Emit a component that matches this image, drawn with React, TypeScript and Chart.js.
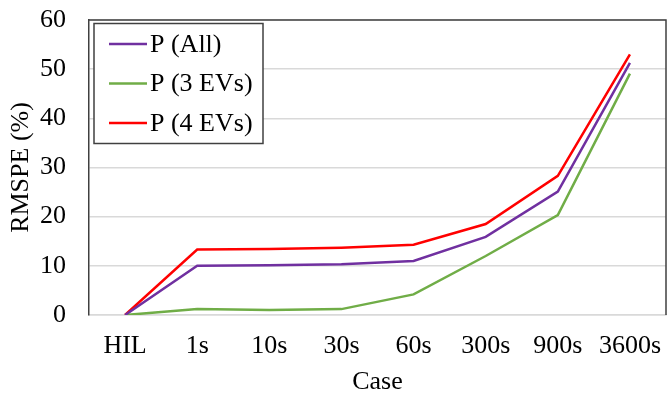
import React, { useEffect, useRef } from "react";
import { Chart, registerables } from "chart.js";

Chart.register(...registerables);

const categories = ["HIL", "1s", "10s", "30s", "60s", "300s", "900s", "3600s"];
const pAll = [0, 10.0, 10.1, 10.3, 11.0, 15.9, 25.1, 51.3];
const p3EVs = [0, 1.2, 1.0, 1.2, 4.2, 12.0, 20.3, 49.1];
const p4EVs = [0, 13.3, 13.4, 13.7, 14.3, 18.5, 28.3, 53.0];
const seriesNames = ["P (All)", "P (3 EVs)", "P (4 EVs)"];
const seriesColors = ["#7030A0", "#70AD47", "#FF0000"];
const yTitle = "RMSPE (%)";
const xTitle = "Case";

const FONT = "'Liberation Serif', 'Times New Roman', serif";

const plotBorderPlugin = {
  id: "plotBorder",
  afterDraw(chart: any) {
    const { ctx, chartArea } = chart;
    ctx.save();
    ctx.strokeStyle = "#404040";
    ctx.lineWidth = 1.5;
    ctx.beginPath();
    ctx.moveTo(chartArea.left, chartArea.top);
    ctx.lineTo(chartArea.right, chartArea.top);
    ctx.lineTo(chartArea.right, chartArea.bottom);
    ctx.stroke();
    ctx.restore();
  },
};

const boxedLegendPlugin = {
  id: "boxedLegend",
  afterDraw(chart: any) {
    const { ctx, chartArea } = chart;
    const x0 = chartArea.left + 5;
    const y0 = chartArea.top + 3.5;
    const w = 169;
    const h = 120;
    ctx.save();
    ctx.fillStyle = "#ffffff";
    ctx.fillRect(x0, y0, w, h);
    ctx.strokeStyle = "#404040";
    ctx.lineWidth = 1.5;
    ctx.strokeRect(x0, y0, w, h);
    ctx.font = `26px ${FONT}`;
    ctx.textBaseline = "middle";
    ctx.textAlign = "left";
    chart.data.datasets.forEach((ds: any, i: number) => {
      const cy = y0 + 20.5 + i * 39.5;
      ctx.strokeStyle = ds.borderColor;
      ctx.lineWidth = 2.5;
      ctx.beginPath();
      ctx.moveTo(x0 + 15, cy);
      ctx.lineTo(x0 + 53, cy);
      ctx.stroke();
      ctx.fillStyle = "#000000";
      ctx.fillText(ds.label, x0 + 56, cy + 1);
    });
    ctx.restore();
  },
};

export default function App() {
  const canvasRef = useRef<HTMLCanvasElement | null>(null);

  useEffect(() => {
    if (!canvasRef.current) return;
    const data = [pAll, p3EVs, p4EVs];
    const chart = new Chart(canvasRef.current, {
      type: "line",
      data: {
        labels: categories,
        datasets: data.map((d, i) => ({
          label: seriesNames[i],
          data: d,
          borderColor: seriesColors[i],
          backgroundColor: seriesColors[i],
          borderWidth: 2.5,
          pointRadius: 0,
          tension: 0,
          fill: false,
        })),
      },
      options: {
        responsive: false,
        animation: false,
        layout: { padding: { top: 20, right: 1, bottom: 0, left: 0 } },
        plugins: {
          legend: { display: false },
          tooltip: { enabled: false },
        },
        scales: {
          x: {
            offset: true,
            grid: { display: false },
            border: { display: true, color: "#d9d9d9", width: 1.5 },
            ticks: {
              color: "#000",
              font: { family: FONT, size: 26 },
              padding: 8,
              maxRotation: 0,
              autoSkip: false,
            },
            title: {
              display: true,
              text: xTitle,
              color: "#000",
              font: { family: FONT, size: 26, lineHeight: 1 },
              padding: { top: 0, bottom: 0 },
            },
            afterFit(scale: any) {
              scale.height = 80;
              scale.paddingLeft = 0;
              scale.paddingRight = 0;
            },
          },
          y: {
            min: 0,
            max: 60,
            grid: { color: "#d9d9d9", lineWidth: 1.5, drawTicks: false },
            border: { display: true, color: "#404040", width: 1.5 },
            ticks: {
              stepSize: 10,
              color: "#000",
              font: { family: FONT, size: 26 },
              padding: 23,
            },
            title: {
              display: true,
              text: yTitle,
              color: "#000",
              font: { family: FONT, size: 26, lineHeight: 1.2 },
              padding: { top: 6, bottom: 0 },
            },
            afterFit(scale: any) {
              scale.width = 89;
              scale.paddingTop = 0;
              scale.paddingBottom = 0;
            },
          },
        },
      },
      plugins: [plotBorderPlugin, boxedLegendPlugin],
    });
    return () => chart.destroy();
  }, []);

  return (
    <div style={{ position: "absolute", left: 0, top: 0, width: 667, height: 395, background: "#fff" }}>
      <canvas ref={canvasRef} width={667} height={395} style={{ display: "block" }} />
    </div>
  );
}
